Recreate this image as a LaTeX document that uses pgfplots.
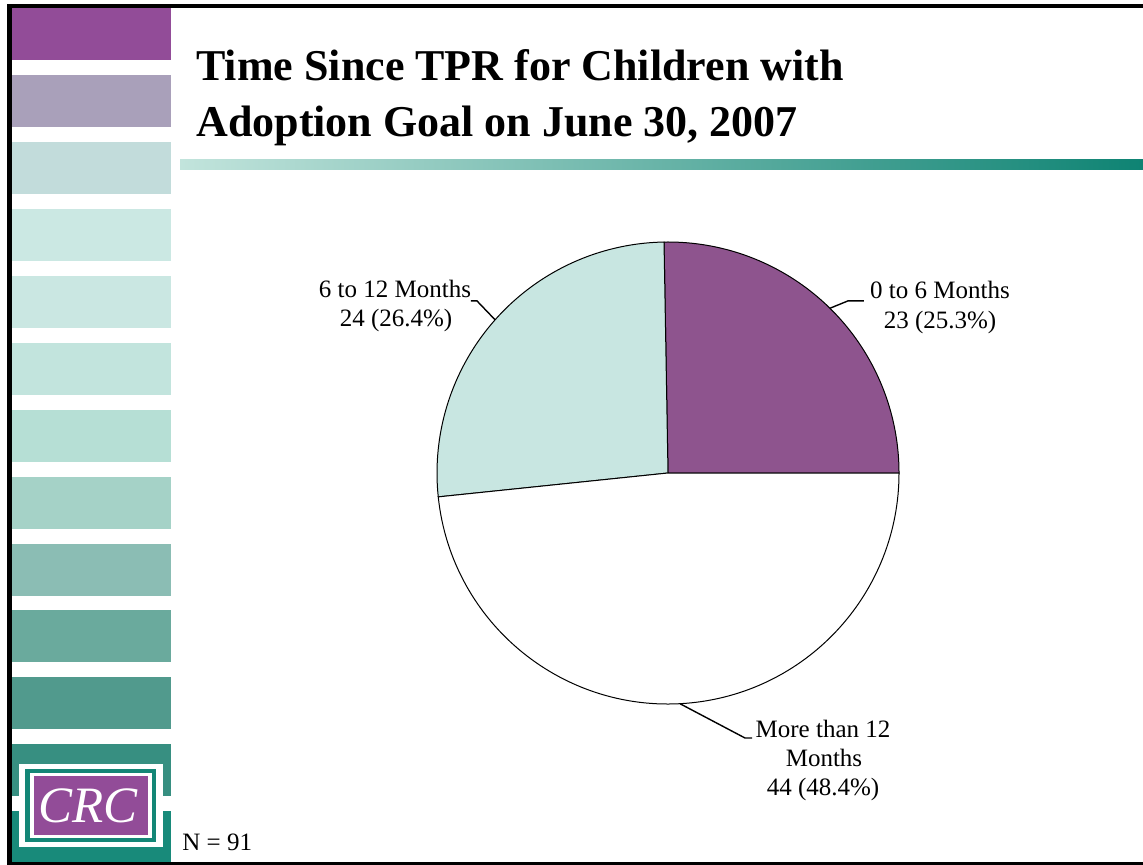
\documentclass[border=0pt]{standalone}
\usepackage{pgfplots}
\pgfplotsset{compat=1.18}
\usepackage{pgfplotstable}
\usepackage{fontspec}
\setmainfont{Liberation Serif}

\definecolor{sbA}{HTML}{924C98}
\definecolor{sbB}{HTML}{A9A0BA}
\definecolor{sbC}{HTML}{C2DCDB}
\definecolor{sbD}{HTML}{CBE8E3}
\definecolor{sbE}{HTML}{CAE7E2}
\definecolor{sbF}{HTML}{C2E4DD}
\definecolor{sbG}{HTML}{B6DFD5}
\definecolor{sbH}{HTML}{A5D2C7}
\definecolor{sbI}{HTML}{8BBDB4}
\definecolor{sbJ}{HTML}{6AAA9D}
\definecolor{sbK}{HTML}{519A8D}
\definecolor{sbL}{HTML}{378F81}
\definecolor{sbM}{HTML}{188A7A}
\definecolor{gradL}{HTML}{C2E4DC}
\definecolor{gradR}{HTML}{0E8373}
\definecolor{logoTeal}{HTML}{138676}
\definecolor{logoPurple}{HTML}{924C98}
\definecolor{pieA}{HTML}{8E548E}
\definecolor{pieB}{HTML}{C8E6E1}
\definecolor{pieC}{HTML}{FFFFFF}

\pgfplotstableread{
label value
A 23
B 24
C 44
}\piedata

\begin{document}
\begin{tikzpicture}[x=0.5pt,y=-0.5pt]
\path (0,0) rectangle (1143,865);
% sidebar
\foreach \yy/\cc in {8/sbA,75/sbB,142/sbC,209/sbD,276/sbE,343/sbF,410/sbG,477/sbH,544/sbI,610/sbJ,677/sbK,744/sbL}
  \fill[\cc] (12,\yy) rectangle (171,\yy+52);
\fill[sbM] (12,811) rectangle (171,862);
% logo
\fill[white] (19,764) rectangle (163,847);
\fill[logoTeal] (25,769) rectangle (156,842);
\fill[white] (30,773) rectangle (152,838);
\fill[logoPurple] (34,776) rectangle (148,835);
\node[anchor=base, text=white, inner sep=0pt, font=\fontsize{25.5pt}{28pt}\selectfont\itshape] at (88,822) {CRC};
% frame
\fill[black] (7,4) rectangle (1143,8);
\fill[black] (7,4) rectangle (12,865);
\fill[black] (7,862) rectangle (1143,865);
% title
\node[anchor=base west, inner sep=0pt, font=\fontsize{22pt}{26pt}\selectfont\bfseries] at (196,81) {Time Since TPR for Children with};
\node[anchor=base west, inner sep=0pt, font=\fontsize{22pt}{26pt}\selectfont\bfseries] at (196,137) {Adoption Goal on June 30, 2007};
% gradient rule
\shade[left color=gradL, right color=gradR] (180,160) rectangle (1143,170);

% pie data
\pgfplotstablegetelem{0}{value}\of\piedata\edef\vA{\pgfplotsretval}
\pgfplotstablegetelem{1}{value}\of\piedata\edef\vB{\pgfplotsretval}
\pgfplotstablegetelem{2}{value}\of\piedata\edef\vC{\pgfplotsretval}
\pgfmathsetmacro\tot{\vA+\vB+\vC}
\pgfmathsetmacro\aA{360*\vA/\tot}
\pgfmathsetmacro\aB{\aA+360*\vB/\tot}
\pgfmathsetmacro\mA{\aA/2}
\pgfmathsetmacro\mB{(\aA+\aB)/2}
\pgfmathsetmacro\mC{(\aB+360)/2}

\coordinate (pc) at (668,473);
\begin{axis}[at={(pc)}, anchor=center, width=231pt, height=231pt,
  scale only axis, xmin=-1, xmax=1, ymin=-1, ymax=1, hide axis, clip=false]
\filldraw[fill=pieA, draw=black, line width=0.5pt] (axis cs:0,0) -- (axis cs:1,0) arc[start angle=0, end angle=\aA, radius=115.5pt] -- cycle;
\filldraw[fill=pieB, draw=black, line width=0.5pt] (axis cs:0,0) -- (axis cs:{cos(\aA)},{sin(\aA)}) arc[start angle=\aA, end angle=\aB, radius=115.5pt] -- cycle;
\filldraw[fill=pieC, draw=black, line width=0.5pt] (axis cs:0,0) -- (axis cs:{cos(\aB)},{sin(\aB)}) arc[start angle=\aB, end angle=360, radius=115.5pt] -- cycle;
% leader lines
\draw[line width=0.7pt] (axis cs:{cos(\mA)},{sin(\mA)}) -- (axis cs:0.779,0.745) -- (axis cs:0.848,0.745);
\draw[line width=0.7pt] (axis cs:{cos(\mB)},{sin(\mB)}) -- (axis cs:-0.827,0.745) -- (axis cs:-0.853,0.745);
\draw[line width=0.7pt] (axis cs:{cos(\mC)},{sin(\mC)}) -- (axis cs:0.333,-1.147) -- (axis cs:0.364,-1.147);
\end{axis}

% labels
\begin{scope}[every node/.style={anchor=base, inner sep=0pt, font=\fontsize{12.5pt}{15pt}\selectfont}]
\node at (940,299) {0 to 6 Months};
\node at (940,329) {23 (25.3\%)};
\node at (395,298) {6 to 12 Months};
\node at (396,327) {24 (26.4\%)};
\node at (823,737) {More than 12};
\node at (824,766) {Months};
\node at (823,795) {44 (48.4\%)};
\end{scope}
\node[anchor=base west, inner sep=0pt, font=\fontsize{12.5pt}{15pt}\selectfont] at (182,850) {N = 91};
\end{tikzpicture}
\end{document}
